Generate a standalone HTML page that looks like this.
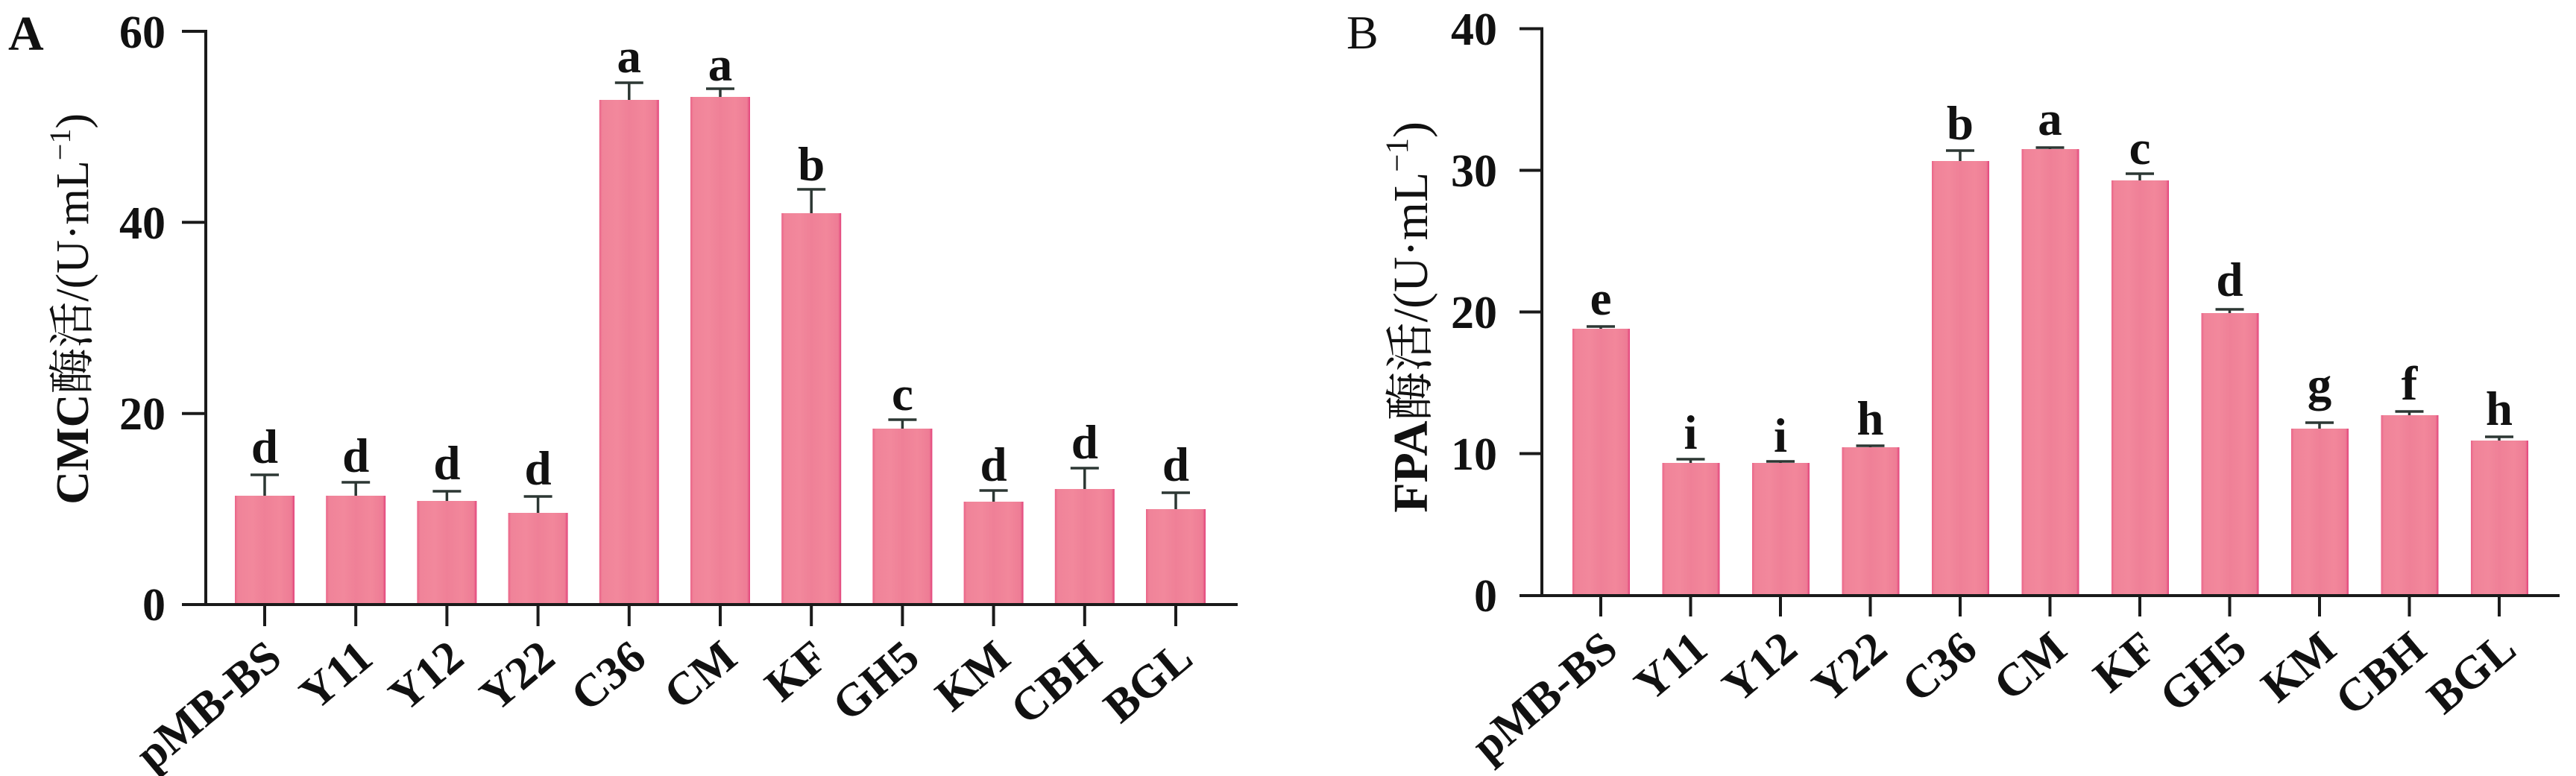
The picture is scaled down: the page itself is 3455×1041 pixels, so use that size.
<!DOCTYPE html>
<html>
<head>
<meta charset="utf-8">
<style>
  html, body { margin: 0; padding: 0; background: #ffffff; }
  svg { display: block; }
  text { font-family: "Liberation Serif", "Noto Serif CJK SC", serif; fill: #111; }
</style>
</head>
<body>
<svg width="3455" height="1041" viewBox="0 0 3455 1041" xmlns="http://www.w3.org/2000/svg">
  <defs>
    <linearGradient id="barg" x1="0" y1="0" x2="1" y2="0">
      <stop offset="0" stop-color="#ea6388"/>
      <stop offset="0.05" stop-color="#f08399"/>
      <stop offset="0.3" stop-color="#f2889c"/>
      <stop offset="0.5" stop-color="#ef8097"/>
      <stop offset="0.75" stop-color="#f2879b"/>
      <stop offset="0.95" stop-color="#ee7c95"/>
      <stop offset="1" stop-color="#e2407a"/>
    </linearGradient>
  </defs>
  <rect x="0" y="0" width="3455" height="1041" fill="#ffffff"/>

  <!-- ================= PANEL A ================= -->
  <text x="11" y="67" font-size="66" font-weight="bold">A</text>

  <!-- y-axis title A -->
  <text transform="translate(118,152) rotate(-90)" text-anchor="end" font-size="62"><tspan font-weight="bold">CMC</tspan>酶活/(U·mL<tspan font-size="40" dy="-24">−1</tspan><tspan dy="24">)</tspan></text>

  <!-- bars A -->
  <g fill="url(#barg)">
    <rect x="315" y="665" width="80" height="146"/>
    <rect x="437.2" y="665" width="80" height="146"/>
    <rect x="559.4" y="672" width="80" height="139"/>
    <rect x="681.6" y="688" width="80" height="123"/>
    <rect x="803.8" y="134" width="80" height="677"/>
    <rect x="926" y="130" width="80" height="681"/>
    <rect x="1048.2" y="286" width="80" height="525"/>
    <rect x="1170.4" y="575" width="80" height="236"/>
    <rect x="1292.6" y="673" width="80" height="138"/>
    <rect x="1414.8" y="656" width="80" height="155"/>
    <rect x="1537" y="683" width="80" height="128"/>
  </g>

  <!-- error bars A -->
  <g stroke="#2c3733" stroke-width="3.5" fill="none">
    <path d="M355 665V637M336 637H374"/>
    <path d="M477.2 665V647M458.2 647H496.2"/>
    <path d="M599.4 672V659M580.4 659H618.4"/>
    <path d="M721.6 688V666M702.6 666H740.6"/>
    <path d="M843.8 134V111M824.8 111H862.8"/>
    <path d="M966 130V119M947 119H985"/>
    <path d="M1088.2 286V254M1069.2 254H1107.2"/>
    <path d="M1210.4 575V563M1191.4 563H1229.4"/>
    <path d="M1332.6 673V658M1313.6 658H1351.6"/>
    <path d="M1454.8 656V628M1435.8 628H1473.8"/>
    <path d="M1577 683V661M1558 661H1596"/>
  </g>

  <!-- significance letters A -->
  <g font-size="65" font-weight="bold" text-anchor="middle">
    <text x="355" y="621">d</text>
    <text x="477.2" y="633">d</text>
    <text x="599.4" y="643">d</text>
    <text x="721.6" y="650">d</text>
    <text x="843.8" y="97">a</text>
    <text x="966" y="108">a</text>
    <text x="1088.2" y="242">b</text>
    <text x="1210.4" y="550">c</text>
    <text x="1332.6" y="645">d</text>
    <text x="1454.8" y="615">d</text>
    <text x="1577" y="645">d</text>
  </g>

  <!-- axes A -->
  <g stroke="#1a1a1a" stroke-width="4" fill="none" stroke-linecap="butt">
    <path d="M276 40V813"/>
    <path d="M244 811H1660"/>
    <path d="M244 42H278"/>
    <path d="M244 298.3H276"/>
    <path d="M244 554.7H276"/>
    <path d="M355 811V840M477.2 811V840M599.4 811V840M721.6 811V840M843.8 811V840M966 811V840M1088.2 811V840M1210.4 811V840M1332.6 811V840M1454.8 811V840M1577 811V840"/>
  </g>

  <!-- y tick labels A -->
  <g font-size="62" font-weight="bold" text-anchor="end">
    <text x="222" y="64">60</text>
    <text x="222" y="320">40</text>
    <text x="222" y="576">20</text>
    <text x="222" y="832">0</text>
  </g>

  <!-- x tick labels A -->
  <g font-size="62" font-weight="bold" text-anchor="end">
    <text transform="translate(381,888) rotate(-40)">pMB-BS</text>
    <text transform="translate(503.2,888) rotate(-40)">Y11</text>
    <text transform="translate(625.4,888) rotate(-40)">Y12</text>
    <text transform="translate(747.6,888) rotate(-40)">Y22</text>
    <text transform="translate(869.8,888) rotate(-40)">C36</text>
    <text transform="translate(992,888) rotate(-40)">CM</text>
    <text transform="translate(1114.2,888) rotate(-40)">KF</text>
    <text transform="translate(1236.4,888) rotate(-40)">GH5</text>
    <text transform="translate(1358.6,888) rotate(-40)">KM</text>
    <text transform="translate(1480.8,888) rotate(-40)">CBH</text>
    <text transform="translate(1603,888) rotate(-40)">BGL</text>
  </g>

  <!-- ================= PANEL B ================= -->
  <text x="1806" y="65" font-size="64">B</text>

  <!-- y-axis title B -->
  <text transform="translate(1914,163) rotate(-90)" text-anchor="end" font-size="66"><tspan font-weight="bold">FPA</tspan>酶活/(U·mL<tspan font-size="43" dy="-26">−1</tspan><tspan dy="26">)</tspan></text>

  <!-- bars B -->
  <g fill="url(#barg)">
    <rect x="2109" y="441" width="77" height="358"/>
    <rect x="2229.5" y="621" width="77" height="178"/>
    <rect x="2350" y="621" width="77" height="178"/>
    <rect x="2470.5" y="600" width="77" height="199"/>
    <rect x="2591" y="216" width="77" height="583"/>
    <rect x="2711.5" y="200" width="77" height="599"/>
    <rect x="2832" y="242" width="77" height="557"/>
    <rect x="2952.5" y="420" width="77" height="379"/>
    <rect x="3073" y="575" width="77" height="224"/>
    <rect x="3193.5" y="557" width="77" height="242"/>
    <rect x="3314" y="591" width="77" height="208"/>
  </g>

  <!-- error bars B -->
  <g stroke="#2c3733" stroke-width="3.5" fill="none">
    <path d="M2147 441V438M2128 438H2166"/>
    <path d="M2267.5 621V616M2248.5 616H2286.5"/>
    <path d="M2388 621V619M2369 619H2407"/>
    <path d="M2508.5 600V598M2489.5 598H2527.5"/>
    <path d="M2629 216V202M2610 202H2648"/>
    <path d="M2749.5 200V198M2730.5 198H2768.5"/>
    <path d="M2870 242V233M2851 233H2889"/>
    <path d="M2990.5 420V415M2971.5 415H3009.5"/>
    <path d="M3111 575V567M3092 567H3130"/>
    <path d="M3231.5 557V552M3212.5 552H3250.5"/>
    <path d="M3352 591V586M3333 586H3371"/>
  </g>

  <!-- significance letters B -->
  <g font-size="65" font-weight="bold" text-anchor="middle">
    <text x="2147" y="422">e</text>
    <text x="2267.5" y="602">i</text>
    <text x="2388" y="606">i</text>
    <text x="2508.5" y="583">h</text>
    <text x="2629" y="187">b</text>
    <text x="2749.5" y="181">a</text>
    <text x="2870" y="220">c</text>
    <text x="2990.5" y="397">d</text>
    <text x="3111" y="537">g</text>
    <text x="3231.5" y="536">f</text>
    <text x="3352" y="570">h</text>
  </g>

  <!-- axes B -->
  <g stroke="#1a1a1a" stroke-width="4" fill="none" stroke-linecap="butt">
    <path d="M2068 37V801"/>
    <path d="M2038 799H3433"/>
    <path d="M2038 38.5H2070"/>
    <path d="M2038 228.5H2068"/>
    <path d="M2038 418.5H2068"/>
    <path d="M2038 608.5H2068"/>
    <path d="M2147 799V827M2267.5 799V827M2388 799V827M2508.5 799V827M2629 799V827M2749.5 799V827M2870 799V827M2990.5 799V827M3111 799V827M3231.5 799V827M3352 799V827"/>
  </g>

  <!-- y tick labels B -->
  <g font-size="62" font-weight="bold" text-anchor="end">
    <text x="2008" y="60">40</text>
    <text x="2008" y="250">30</text>
    <text x="2008" y="440">20</text>
    <text x="2008" y="630">10</text>
    <text x="2008" y="820">0</text>
  </g>

  <!-- x tick labels B -->
  <g font-size="62" font-weight="bold" text-anchor="end">
    <text transform="translate(2173,876) rotate(-40)">pMB-BS</text>
    <text transform="translate(2293.5,876) rotate(-40)">Y11</text>
    <text transform="translate(2414,876) rotate(-40)">Y12</text>
    <text transform="translate(2534.5,876) rotate(-40)">Y22</text>
    <text transform="translate(2655,876) rotate(-40)">C36</text>
    <text transform="translate(2775.5,876) rotate(-40)">CM</text>
    <text transform="translate(2896,876) rotate(-40)">KF</text>
    <text transform="translate(3016.5,876) rotate(-40)">GH5</text>
    <text transform="translate(3137,876) rotate(-40)">KM</text>
    <text transform="translate(3257.5,876) rotate(-40)">CBH</text>
    <text transform="translate(3378,876) rotate(-40)">BGL</text>
  </g>
</svg>
</body>
</html>
